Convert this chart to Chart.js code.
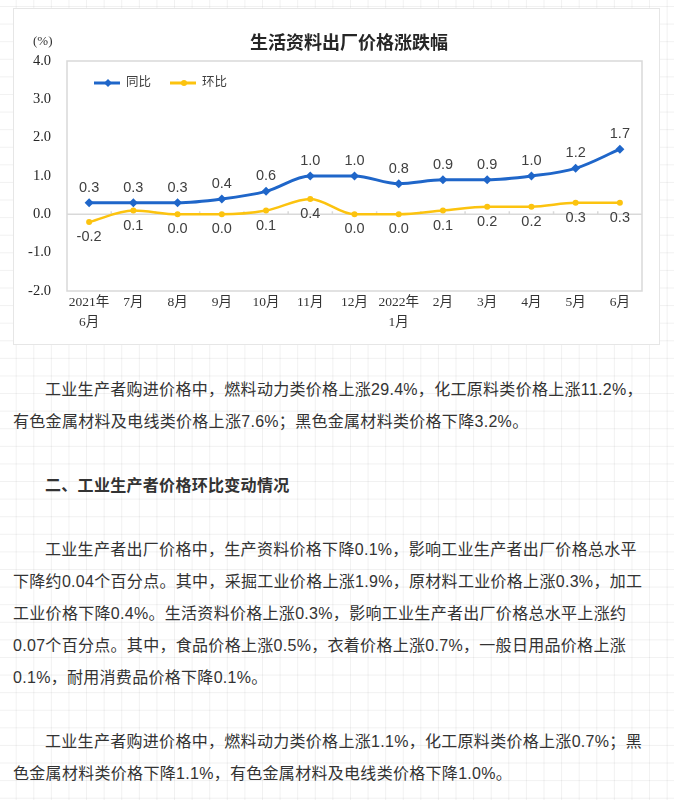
<!DOCTYPE html>
<html>
<head>
<meta charset="utf-8">
<script src="https://cdn.jsdelivr.net/npm/chart.js@4/dist/chart.umd.min.js"></script>
<style>
  html, body { margin: 0; padding: 0; }
  body {
    width: 674px; height: 800px; position: relative; overflow: hidden;
    background-color: #ffffff;
    background-image:
      linear-gradient(rgba(0,0,0,0.055) 1px, transparent 1px),
      linear-gradient(90deg, rgba(0,0,0,0.055) 1px, transparent 1px);
    background-size: 17.6px 17.6px;
    background-position: 15.7px 6px;
  }
  #box {
    position: absolute; left: 13px; top: 8px; width: 647px; height: 337px;
    background: #fff; border: 1px solid #e6e6e6; box-sizing: border-box;
  }
  #chart { position: absolute; left: -1px; top: -1px; }
  #text {
    position: absolute; left: 13px; top: 374px; width: 655px;
    font-family: "Liberation Sans", "Noto Sans CJK SC", sans-serif;
    font-size: 16px; letter-spacing: 0.3px; color: #333;
  }
  #text p { margin: 0 0 32px 0; line-height: 32px; white-space: nowrap; text-indent: 2em; }
  #text p.h { font-weight: bold; }
</style>
</head>
<body>
<div id="box"><canvas id="chart" width="647" height="337"></canvas></div>
<div id="text">
  <p>工业生产者购进价格中，燃料动力类价格上涨29.4%，化工原料类价格上涨11.2%，<br>有色金属材料及电线类价格上涨7.6%；黑色金属材料类价格下降3.2%。</p>
  <p class="h">二、工业生产者价格环比变动情况</p>
  <p>工业生产者出厂价格中，生产资料价格下降0.1%，影响工业生产者出厂价格总水平<br>下降约0.04个百分点。其中，采掘工业价格上涨1.9%，原材料工业价格上涨0.3%，加工<br>工业价格下降0.4%。生活资料价格上涨0.3%，影响工业生产者出厂价格总水平上涨约<br>0.07个百分点。其中，食品价格上涨0.5%，衣着价格上涨0.7%，一般日用品价格上涨<br>0.1%，耐用消费品价格下降0.1%。</p>
  <p>工业生产者购进价格中，燃料动力类价格上涨1.1%，化工原料类价格上涨0.7%；黑<br>色金属材料类价格下降1.1%，有色金属材料及电线类价格下降1.0%。</p>
</div>
<script>
const chartTitle = "生活资料出厂价格涨跌幅";
const unitLabel = "(%)";
const categories = [["2021年","6月"],"7月","8月","9月","10月","11月","12月",["2022年","1月"],"2月","3月","4月","5月","6月"];
const seriesNames = ["同比", "环比"];
const yoyValues = [0.3,0.3,0.3,0.4,0.6,1.0,1.0,0.8,0.9,0.9,1.0,1.2,1.7];
const momValues = [-0.2,0.1,0.0,0.0,0.1,0.4,0.0,0.0,0.1,0.2,0.2,0.3,0.3];
const yMin = -2, yMax = 4, yStep = 1;

const BLUE = "#1f66c9";
const YELLOW = "#fcc30f";
const SERIF = '"Liberation Serif", "Noto Sans CJK SC", serif';
const SANS = '"Liberation Sans", "Noto Sans CJK SC", sans-serif';

const decorPlugin = {
  id: "decor",
  beforeDatasetsDraw(chart) {
    const { ctx, chartArea: a, scales } = chart;
    ctx.save();
    ctx.strokeStyle = "#d9d9d9";
    ctx.lineWidth = 1.5;
    ctx.strokeRect(a.left, a.top, a.right - a.left, a.bottom - a.top);
    const y0 = scales.y.getPixelForValue(0);
    ctx.beginPath();
    ctx.moveTo(a.left, y0); ctx.lineTo(a.right, y0);
    const n = categories.length;
    const step = (a.right - a.left) / n;
    for (let i = 1; i < n; i++) {
      const x = a.left + step * i;
      ctx.moveTo(x, y0 - 3); ctx.lineTo(x, y0);
    }
    ctx.stroke();
    ctx.restore();
  },
  afterDatasetsDraw(chart) {
    const { ctx, chartArea: a } = chart;
    ctx.save();
    // data labels
    ctx.font = "14.5px " + SANS;
    ctx.fillStyle = "#404040";
    ctx.textAlign = "center";
    ctx.textBaseline = "middle";
    chart.data.datasets.forEach((ds, i) => {
      const meta = chart.getDatasetMeta(i);
      meta.data.forEach((pt, j) => {
        const off = i === 0 ? -15 : 15;
        ctx.fillText(ds.data[j].toFixed(1), pt.x, pt.y + off);
      });
    });
    // title
    ctx.font = "bold 18px " + SANS;
    ctx.fillStyle = "#262626";
    ctx.fillText(chartTitle, 336, 36);
    // unit
    ctx.font = "13px " + SERIF;
    ctx.fillStyle = "#333";
    ctx.textAlign = "left";
    ctx.fillText(unitLabel, 20, 34);
    // legend
    const ly = a.top + 22;
    const items = [
      { x: a.left + 27, color: BLUE, style: "diamond" },
      { x: a.left + 103, color: YELLOW, style: "circle" }
    ];
    items.forEach((it, k) => {
      ctx.strokeStyle = it.color; ctx.fillStyle = it.color; ctx.lineWidth = 3;
      ctx.beginPath(); ctx.moveTo(it.x, ly); ctx.lineTo(it.x + 26, ly); ctx.stroke();
      const cx = it.x + 14;
      ctx.beginPath();
      if (it.style === "diamond") {
        ctx.moveTo(cx, ly - 4); ctx.lineTo(cx + 4, ly); ctx.lineTo(cx, ly + 4); ctx.lineTo(cx - 4, ly);
        ctx.closePath();
      } else {
        ctx.arc(cx, ly, 3, 0, Math.PI * 2);
      }
      ctx.fill();
      ctx.font = "12.5px " + SANS;
      ctx.fillStyle = "#404040";
      ctx.textAlign = "left";
      ctx.fillText(seriesNames[k], it.x + 32, ly);
    });
    ctx.restore();
  }
};

new Chart(document.getElementById("chart"), {
  type: "line",
  data: {
    labels: categories,
    datasets: [
      {
        label: seriesNames[0], data: yoyValues,
        borderColor: BLUE, backgroundColor: BLUE, borderWidth: 3,
        pointStyle: "rectRot", pointRadius: 4.5, pointBorderWidth: 0,
        cubicInterpolationMode: "monotone"
      },
      {
        label: seriesNames[1], data: momValues,
        borderColor: YELLOW, backgroundColor: YELLOW, borderWidth: 2.5,
        pointStyle: "circle", pointRadius: 3, pointBorderWidth: 0,
        cubicInterpolationMode: "monotone"
      }
    ]
  },
  options: {
    responsive: false,
    animation: false,
    layout: { padding: { top: 53, right: 18, bottom: 0, left: 0 } },
    plugins: { legend: { display: false }, title: { display: false }, tooltip: { enabled: false } },
    scales: {
      x: {
        offset: true,
        grid: { display: false, drawTicks: false },
        border: { display: false },
        ticks: {
          autoSkip: false, maxRotation: 0, padding: 2,
          font: { family: SERIF, size: 13.5, lineHeight: 1.45 }, color: "#333"
        },
        afterFit(s) { s.height = 54; }
      },
      y: {
        min: yMin, max: yMax,
        grid: { display: false, drawTicks: false },
        border: { display: false },
        ticks: {
          stepSize: yStep, padding: 16,
          font: { family: SERIF, size: 14.5 }, color: "#262626",
          callback: v => Number(v).toFixed(1)
        },
        afterFit(s) { s.width = 54; }
      }
    }
  },
  plugins: [decorPlugin]
});
</script>
</body>
</html>
